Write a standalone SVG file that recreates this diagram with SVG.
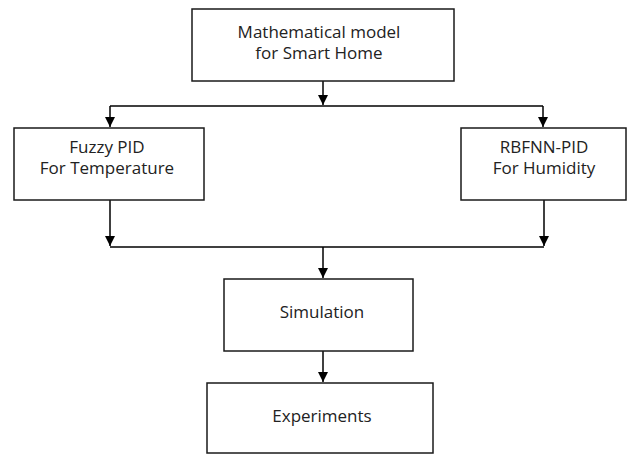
<svg xmlns="http://www.w3.org/2000/svg" width="628" height="455" viewBox="0 0 628 455">
<defs>
<marker id="ah" markerWidth="10" markerHeight="10" refX="10" refY="5" orient="auto" markerUnits="userSpaceOnUse" viewBox="0 0 10 10">
<path d="M0,0 L10,5 L0,10 Z" fill="#000"/>
</marker>
<style>
.box{fill:#fff;stroke:#1a1a1a;stroke-width:1.5}
.t{font-family:"Open Sans","DejaVu Sans",sans-serif;font-size:17px;fill:#222;text-anchor:middle}
.c{fill:none;stroke:#000;stroke-width:1.5}
</style>
</defs>
<rect width="628" height="455" fill="#fff"/>
<g id="connectors">
<path class="c" d="M323,81 V105" marker-end="url(#ah)"/>
<path class="c" d="M110,106 H543"/>
<path class="c" d="M110,106 V127" marker-end="url(#ah)"/>
<path class="c" d="M543,106 V127" marker-end="url(#ah)"/>
<path class="c" d="M110,200 V246" marker-end="url(#ah)"/>
<path class="c" d="M544,200 V246" marker-end="url(#ah)"/>
<path class="c" d="M110,247 H544"/>
<path class="c" d="M323,247 V278" marker-end="url(#ah)"/>
<path class="c" d="M323,351 V382" marker-end="url(#ah)"/>
</g>
<g id="model">
<rect class="box" x="192" y="9" width="262" height="72"/>
<text class="t" x="319" y="38">Mathematical model</text>
<text class="t" x="319" y="59">for Smart Home</text>
</g>
<g id="fuzzy">
<rect class="box" x="14" y="128" width="190" height="72"/>
<text class="t" x="107" y="153">Fuzzy PID</text>
<text class="t" x="107" y="174">For Temperature</text>
</g>
<g id="rbfnn">
<rect class="box" x="461" y="128" width="165" height="72"/>
<text class="t" x="544" y="153">RBFNN-PID</text>
<text class="t" x="544" y="174">For Humidity</text>
</g>
<g id="simulation">
<rect class="box" x="224" y="279" width="189" height="72"/>
<text class="t" x="322" y="318">Simulation</text>
</g>
<g id="experiments">
<rect class="box" x="207" y="383" width="226" height="70"/>
<text class="t" x="322" y="422">Experiments</text>
</g>
</svg>
